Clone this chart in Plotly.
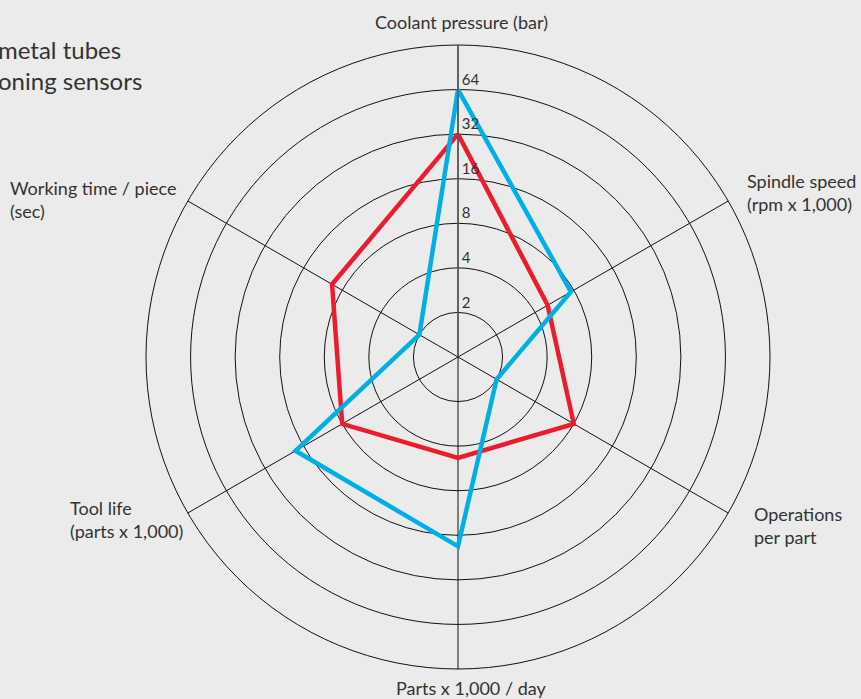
import math
import plotly.graph_objects as go

categories = ["Coolant pressure (bar)", "Spindle speed<br>(rpm x 1,000)", "Operations<br>per part",
              "Parts x 1,000 / day", "Tool life<br>(parts x 1,000)", "Working time / piece<br>(sec)"]
red_values = [32, 5, 8, 4.8, 8, 9.6]
blue_values = [64, 7.6, 2, 19, 18.5, 2]
radial_ticks = [2, 4, 8, 16, 32, 64]
radial_max = 128
title_lines = ["metal tubes", "oning sensors"]

RED = "#ec1c2e"
BLUE = "#00afe3"
BG = "#ebebeb"
TXT = "#333333"
FONT = "Lato"

W, H = 861, 699
cx, cy, R = 458, 357, 312

fig = go.Figure()
for vals, col in [(red_values, RED), (blue_values, BLUE)]:
    fig.add_trace(go.Scatterpolar(
        r=vals + vals[:1], theta=categories + categories[:1],
        mode="lines", line=dict(color=col, width=4.5), showlegend=False,
        hoverinfo="skip",
    ))

# category labels placed as annotations just outside the end of each spoke
label_style = [  # (dx, dy, xanchor) relative to spoke end, in pixels
    (3, -23, "center"), (17, -9, "left"), (24, 12, "left"),
    (13, 19, "center"), (-3, 6, "right"), (-10, -1, "right"),
]
annotations = []
n = len(categories)
for i, (cat, (dx, dy, xa)) in enumerate(zip(categories, label_style)):
    th = math.radians(90 - 360 / n * i)
    px = cx + R * math.cos(th) + dx
    py = cy - R * math.sin(th) + dy
    annotations.append(dict(
        x=px / W, y=1 - py / H, xref="paper", yref="paper",
        xanchor=xa, yanchor="middle", align="left" if xa != "center" else "center",
        text=cat, showarrow=False, font=dict(family=FONT, size=18, color=TXT),
    ))

annotations.append(dict(
    x=-4 / W, y=1 - 33 / H, xref="paper", yref="paper", xanchor="left", yanchor="top",
    text="<br>".join(title_lines), showarrow=False, align="left",
    font=dict(family=FONT, size=24, color=TXT),
))

fig.update_layout(
    width=W, height=H,
    paper_bgcolor=BG, plot_bgcolor=BG,
    margin=dict(l=0, r=0, t=0, b=0),
    font=dict(family=FONT, size=16, color=TXT),
    polar=dict(
        bgcolor=BG,
        domain=dict(x=[(cx - R) / W, (cx + R) / W], y=[(H - cy - R) / H, (H - cy + R) / H]),
        angularaxis=dict(
            direction="clockwise", rotation=90,
            showline=True, linecolor="#111111", linewidth=1,
            showgrid=True, gridcolor="#111111", gridwidth=1,
            ticks="", showticklabels=False,
            categoryorder="array", categoryarray=categories,
        ),
        radialaxis=dict(
            type="log", range=[0, math.log10(radial_max)],
            angle=90, side="clockwise", tickangle=90,
            tickvals=radial_ticks,
            ticktext=[f"{v}<br> " for v in radial_ticks],
            showline=True, linecolor="#5a5a5a", linewidth=1.5,
            showgrid=True, gridcolor="#111111", gridwidth=1,
            ticks="", tickfont=dict(family=FONT, size=15, color=TXT),
        ),
    ),
    annotations=annotations,
)
fig.write_html(
    "out.html",
    config={"displayModeBar": False},
    post_script="document.body.style.margin='0';document.body.style.background='%s';" % BG,
)
